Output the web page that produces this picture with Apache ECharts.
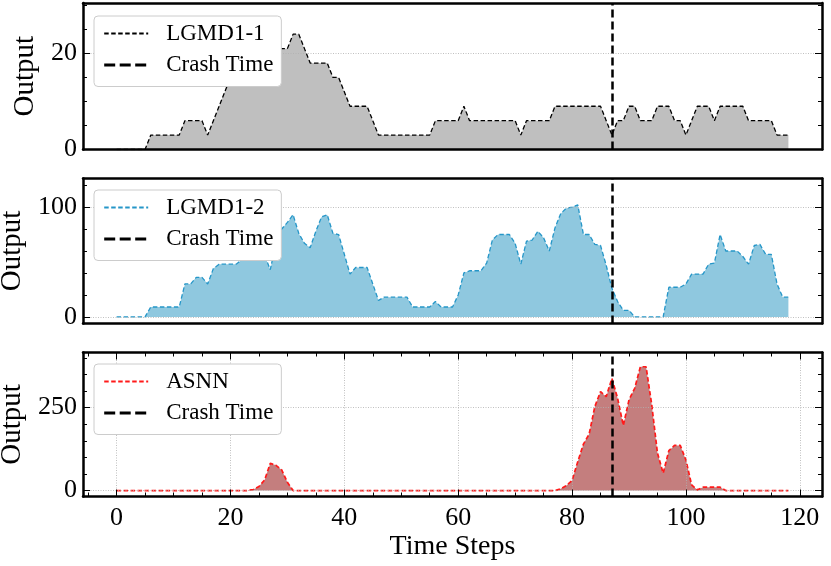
<!DOCTYPE html>
<html>
<head>
<meta charset="utf-8">
<script src="https://cdn.jsdelivr.net/npm/echarts@6/dist/echarts.min.js"></script>
<style>
  html, body { margin: 0; padding: 0; background: #ffffff; }
  #chart { width: 831px; height: 566px; }
</style>
</head>
<body>
<div id="chart"></div>
<script>
// time steps 0..118
var steps = [];
for (var i = 0; i <= 118; i++) steps.push(i);

var crashTime = 87;

var lgmd1 = [
  0, 0, 0, 0, 0, 0, 3, 3, 3, 3,
  3, 3, 6, 6, 6, 6, 3, 6, 9, 12,
  15, 18, 18, 21, 21, 21, 21, 21, 21, 21,
  21, 24, 24, 21, 18, 18, 18, 18, 15, 15,
  12, 9, 9, 9, 9, 6, 3, 3, 3, 3,
  3, 3, 3, 3, 3, 3, 6, 6, 6, 6,
  6, 9, 6, 6, 6, 6, 6, 6, 6, 6,
  6, 3, 6, 6, 6, 6, 6, 9, 9, 9,
  9, 9, 9, 9, 9, 9, 6, 3, 6, 6,
  9, 9, 6, 6, 6, 9, 9, 9, 6, 6,
  3, 6, 9, 9, 9, 6, 9, 9, 9, 9,
  9, 6, 6, 6, 6, 6, 3, 3, 3
];

var lgmd2 = [
  0, 0, 0, 0, 0, 0, 9, 9, 9, 9,
  9, 9, 30, 30, 36, 36, 30, 44, 48, 48,
  48, 48, 52, 56, 60, 58, 56, 43, 68, 80,
  86, 93, 76, 67, 63, 78, 91, 93, 76, 75,
  57, 39, 45, 45, 45, 30, 15, 18, 18, 18,
  18, 18, 9, 9, 9, 9, 14, 9, 9, 9,
  20, 40, 42, 42, 42, 49, 70, 75, 75, 75,
  67, 48, 69, 70, 78, 72, 60, 81, 94, 99,
  100, 102, 75, 75, 66, 65, 47, 26, 14, 6,
  6, 0, 0, 0, 0, 0, 0, 27, 27, 27,
  30, 39, 39, 39, 48, 49, 75, 60, 60, 60,
  55, 48, 65, 66, 57, 57, 30, 18, 18
];

var asnn = [
  0, 0, 0, 0, 0, 0, 0, 0, 0, 0,
  0, 0, 0, 0, 0, 0, 0, 0, 0, 0,
  0, 0, 0, 0, 3, 12, 32, 82, 76, 62,
  25, 0, 0, 0, 0, 0, 0, 0, 0, 0,
  0, 0, 0, 0, 0, 0, 0, 0, 0, 0,
  0, 0, 0, 0, 0, 0, 0, 0, 0, 0,
  0, 0, 0, 0, 0, 0, 0, 0, 0, 0,
  0, 0, 0, 0, 0, 0, 0, 0, 5, 15,
  30, 87, 140, 170, 253, 298, 283, 338, 278, 196,
  273, 308, 373, 373, 258, 113, 52, 120, 136, 136,
  92, 17, 2, 10, 10, 10, 10, 0, 0, 0,
  0, 0, 0, 0, 0, 0, 0, 0, 0
];

var xTicks = [0, 20, 40, 60, 80, 100, 120];
var xMinorTicks = [-5, 5, 10, 15, 25, 30, 35, 45, 50, 55, 65, 70, 75,
  85, 90, 95, 105, 110, 115];

var lgmd1Ticks = [0, 20];
var lgmd1MinorTicks = [5, 10, 15, 25, 30];
var lgmd2Ticks = [0, 100];
var lgmd2MinorTicks = [20, 40, 60, 80, 120];
var asnnTicks = [0, 250];
var asnnMinorTicks = [50, 100, 150, 200, 300, 350, 400];

var font = 'Liberation Serif';

var panels = [
  { name: 'LGMD1-1', values: lgmd1, ticks: lgmd1Ticks, minor: lgmd1MinorTicks,
    min: 0, max: 30.5, top: 3, height: 146.5, nameGap: 41, legendTop: 16,
    line: '#000000', fill: '#bfbfbf', width: 1.3 },
  { name: 'LGMD1-2', values: lgmd2, ticks: lgmd2Ticks, minor: lgmd2MinorTicks,
    min: -6, max: 126, top: 178.5, height: 145, nameGap: 51, legendTop: 190,
    line: '#2596c8', fill: '#8fc8df', width: 1.3 },
  { name: 'ASNN', values: asnn, ticks: asnnTicks, minor: asnnMinorTicks,
    min: -18, max: 416, top: 352.5, height: 144, nameGap: 51, legendTop: 364,
    line: '#ff1a1a', fill: '#c47e7e', width: 1.7 }
];

var grids = [], xAxes = [], yAxes = [], series = [], legends = [];
var border = { color: '#000', width: 2.5 };
var tickStyle = { color: '#000', width: 1 };
var gridLine = { color: '#b0b0b0', width: 0.8, type: [1, 1.5] };

function xAxis(k, position, ticks, len, extra) {
  var a = {
    gridIndex: k, type: 'value', min: -5.9, max: 123.9, position: position, z: 5,
    axisLine: { show: false, onZero: false, lineStyle: border },
    axisTick: { show: !!ticks, inside: true, length: len, customValues: ticks || [], lineStyle: tickStyle },
    axisLabel: { show: false },
    splitLine: { show: false }
  };
  for (var key in extra) a[key] = extra[key];
  xAxes.push(a);
  return xAxes.length - 1;
}

function yAxis(k, p, position, ticks, len, extra) {
  var a = {
    gridIndex: k, type: 'value', min: p.min, max: p.max, position: position, z: 5,
    axisLine: { show: false, onZero: false, lineStyle: border },
    axisTick: { show: true, inside: true, length: len, customValues: ticks, lineStyle: tickStyle },
    axisLabel: { show: false },
    splitLine: { show: false }
  };
  for (var key in extra) a[key] = extra[key];
  yAxes.push(a);
  return yAxes.length - 1;
}

panels.forEach(function (p, k) {
  var last = k === panels.length - 1;
  grids.push({ left: 83, width: 739, top: p.top, height: p.height, outerBoundsMode: 'none' });

  var xb = xAxis(k, 'bottom', last ? xTicks : null, 7, {
    axisLine: { show: true, onZero: false, lineStyle: border },
    axisLabel: { show: last, customValues: xTicks, margin: 9, fontSize: 26, fontFamily: font, color: '#000' },
    splitLine: { show: last, lineStyle: gridLine },
    name: last ? 'Time Steps' : '', nameLocation: 'middle', nameGap: 35,
    nameTextStyle: { fontSize: 28, fontFamily: font, color: '#000' }
  });
  xAxis(k, 'top', last ? xTicks : null, 7, {
    axisLine: { show: true, onZero: false, lineStyle: border }
  });
  if (last) {
    xAxis(k, 'bottom', xMinorTicks, 4, {});
    xAxis(k, 'top', xMinorTicks, 4, {});
  }

  var yb = yAxis(k, p, 'left', p.ticks, 7, {
    axisLine: { show: true, onZero: false, lineStyle: border },
    axisLabel: { show: true, customValues: p.ticks, margin: 6, fontSize: 26, fontFamily: font, color: '#000' },
    splitLine: { show: true, lineStyle: gridLine },
    name: 'Output', nameLocation: 'middle', nameGap: p.nameGap,
    nameTextStyle: { fontSize: 29, fontFamily: font, color: '#000' }
  });
  yAxis(k, p, 'left', p.minor, 4, {});
  yAxis(k, p, 'right', p.ticks, 7, {
    axisLine: { show: true, onZero: false, lineStyle: border }
  });
  yAxis(k, p, 'right', p.minor, 4, {});

  series.push({
    name: p.name, type: 'line', xAxisIndex: xb, yAxisIndex: yb,
    data: steps.map(function (s, i) { return [s, p.values[i]]; }),
    symbol: 'none', showSymbol: false, z: 2,
    lineStyle: { color: p.line, width: p.width, type: [4.5, 2.5] },
    itemStyle: { color: p.line },
    areaStyle: { color: p.fill, opacity: 1 }
  });
  series.push({
    name: 'Crash Time', type: 'line', xAxisIndex: xb, yAxisIndex: yb,
    data: [], symbol: 'none', z: 3,
    lineStyle: { color: '#000', width: 2.5, type: [8, 4] },
    itemStyle: { color: '#000' },
    markLine: {
      silent: true, symbol: ['none', 'none'], label: { show: false },
      lineStyle: { color: '#000', width: 2.5, type: [8, 4] },
      data: [{ xAxis: crashTime }]
    }
  });

  legends.push({
    orient: 'vertical', left: 94, top: p.legendTop,
    data: [
      { name: p.name },
      { name: 'Crash Time', lineStyle: { width: 3, type: [11, 4.5] } }
    ],
    itemWidth: 44, itemHeight: 14, itemGap: 8.5, padding: [6, 8, 10, 8.7],
    backgroundColor: '#ffffff', borderColor: '#cccccc', borderWidth: 1, borderRadius: 4,
    selectedMode: false, z: 10,
    itemStyle: { opacity: 0 },
    textStyle: { fontFamily: font, fontSize: 23, lineHeight: 22, color: '#000', padding: [0, 0, 0, 13] }
  });
});

var chart = echarts.init(document.getElementById('chart'), null, { renderer: 'canvas' });
chart.setOption({
  animation: false,
  backgroundColor: '#ffffff',
  grid: grids,
  xAxis: xAxes,
  yAxis: yAxes,
  legend: legends,
  series: series
});
</script>
</body>
</html>
